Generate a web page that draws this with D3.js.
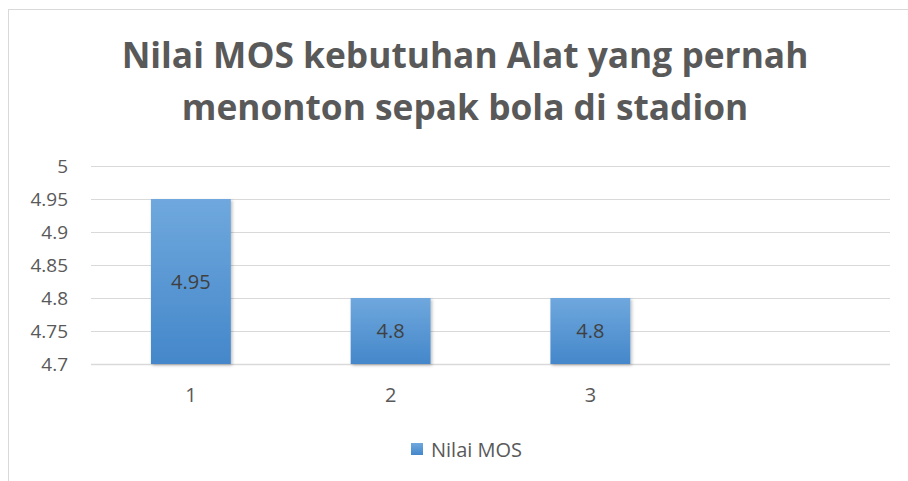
<!DOCTYPE html>
<html><head><meta charset="utf-8">
<script src="https://cdn.jsdelivr.net/npm/d3@7"></script>
<style>body{margin:0;background:#fff}svg{display:block}text{font-family:"Open Sans",sans-serif}</style>
</head><body><svg id="c" width="908" height="481"></svg>
<script>
const categories = ["1","2","3","4"];
const tickLabels = ["1","2","3",""];
const values = [4.95, 4.8, 4.8, null];
const yTicks = [4.7,4.75,4.8,4.85,4.9,4.95,5];
const seriesName = "Nilai MOS";
const titleLines = ["Nilai MOS kebutuhan Alat yang pernah","menonton sepak bola di stadion"];

const svg = d3.select("#c");
svg.append("rect").attr("x",8.5).attr("y",9.5).attr("width",920).attr("height",500)
  .attr("fill","#fff").attr("stroke","#d9d9d9");

const defs = svg.append("defs");
const g1 = defs.append("linearGradient").attr("id","bg").attr("x1",0).attr("y1",0).attr("x2",0).attr("y2",1);
g1.append("stop").attr("offset","0%").attr("stop-color","#6fa8dd");
g1.append("stop").attr("offset","100%").attr("stop-color","#4487ca");
const f = defs.append("filter").attr("id","sh").attr("x","-20%").attr("y","-20%").attr("width","140%").attr("height","140%");
f.append("feDropShadow").attr("dx",1.5).attr("dy",1.5).attr("stdDeviation",1.5).attr("flood-color","#000").attr("flood-opacity",0.25);

const L=91, R=890, T=166, B=364;
const x = d3.scaleBand().domain(categories).range([L,R]).paddingInner(0.6).paddingOuter(0.3);
const y = d3.scaleLinear().domain([4.7,5]).range([B,T]);

svg.append("g").selectAll("line").data(yTicks).join("line")
  .attr("x1",L).attr("x2",R).attr("y1",d=>Math.round(y(d))+0.5).attr("y2",d=>Math.round(y(d))+0.5)
  .attr("stroke","#d9d9d9").attr("stroke-width",d=>d===4.7?1.5:1);

const yAxis = d3.axisLeft(y).tickValues(yTicks).tickFormat(d=>d3.format("")(+d.toFixed(2))).tickSize(0).tickPadding(23);
const ya = svg.append("g").attr("transform",`translate(${L},0)`).call(yAxis);
ya.select(".domain").remove();
ya.selectAll("text").attr("font-size",19).attr("fill","#595959");

const xAxis = d3.axisBottom(x).tickFormat((d,i)=>tickLabels[i]).tickSize(0).tickPadding(24);
const xa = svg.append("g").attr("transform",`translate(0,${B})`).call(xAxis);
xa.select(".domain").remove();
xa.selectAll("text").attr("font-size",20).attr("fill","#595959");

const data = categories.map((c,i)=>({c,v:values[i]})).filter(d=>d.v!=null);
svg.append("g").selectAll("rect").data(data).join("rect")
  .attr("x",d=>x(d.c)).attr("width",x.bandwidth())
  .attr("y",d=>y(d.v)).attr("height",d=>B-y(d.v))
  .attr("fill","url(#bg)").attr("filter","url(#sh)");

svg.append("g").selectAll("text").data(data).join("text")
  .attr("x",d=>x(d.c)+x.bandwidth()/2).attr("y",d=>(y(d.v)+B)/2+7)
  .attr("text-anchor","middle").attr("font-size",20).attr("fill","#404040")
  .text(d=>d.v);

svg.append("g").selectAll("text").data(titleLines).join("text")
  .attr("x",465).attr("y",(d,i)=>68+i*52).attr("text-anchor","middle")
  .attr("font-size",35.3).attr("font-weight","bold").attr("fill","#595959").text(d=>d);

const lg = svg.append("g");
lg.append("rect").attr("x",411).attr("y",443).attr("width",12).attr("height",12).attr("fill","url(#bg)");
lg.append("text").attr("x",431).attr("y",457).attr("font-size",20).attr("fill","#595959").text(seriesName);
</script></body></html>
